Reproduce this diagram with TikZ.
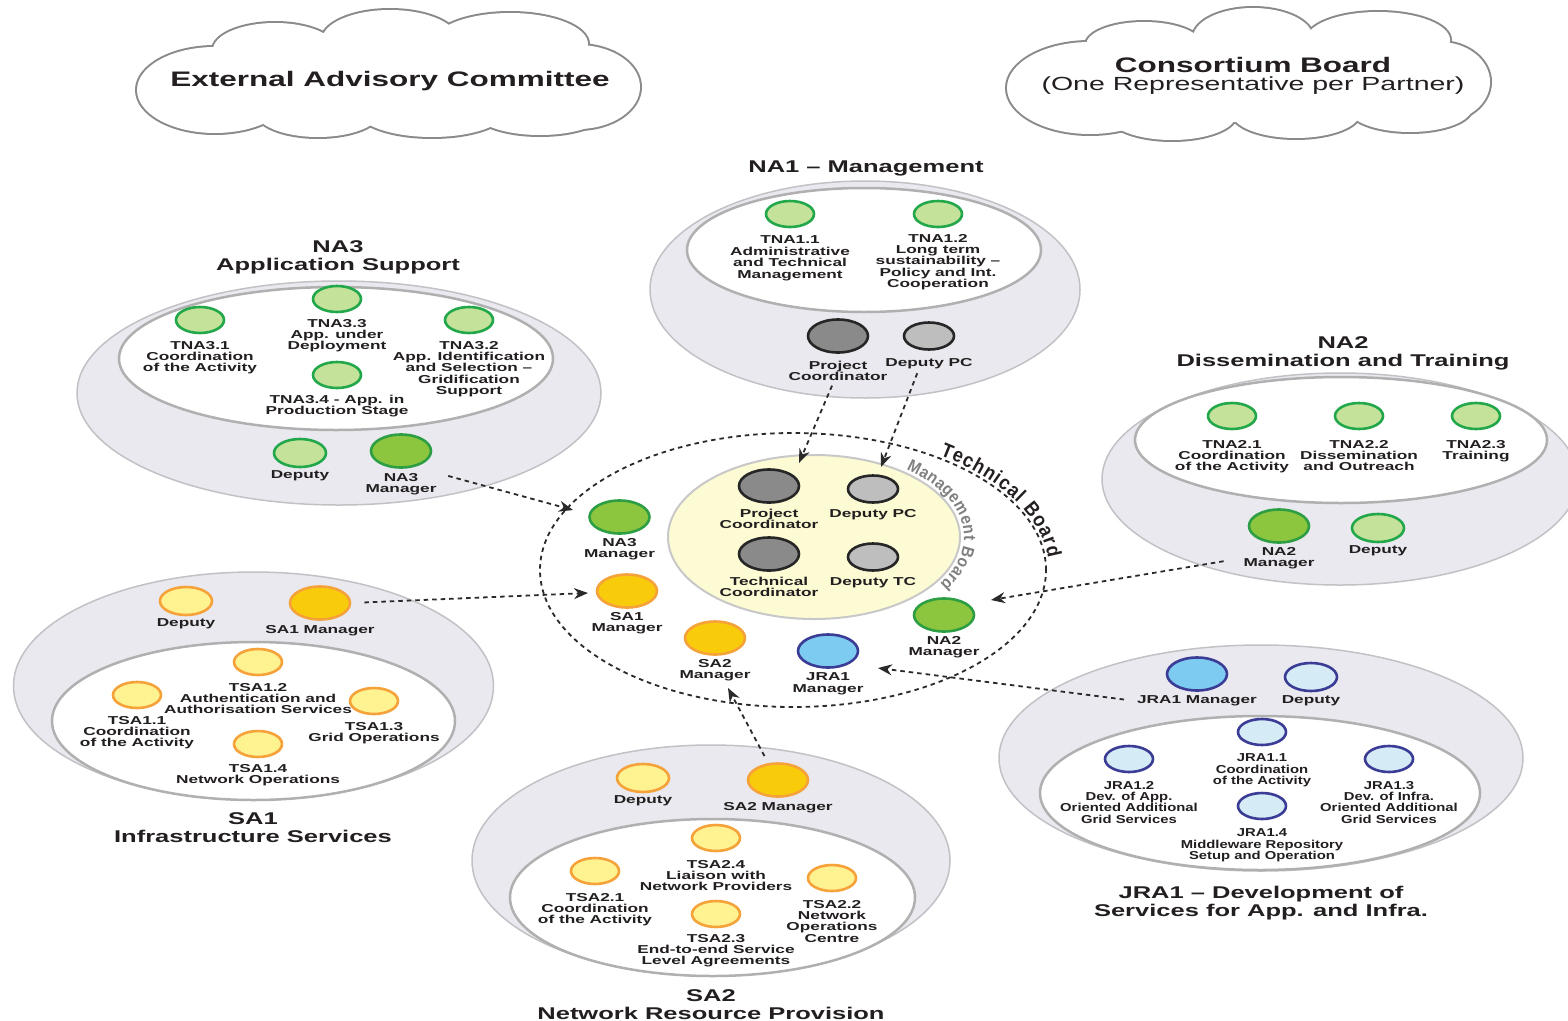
\documentclass[tikz,border=0pt]{standalone}
\usepackage{fontspec}
\setmainfont[FakeStretch=1.5]{Liberation Sans}
\newfontfamily\narrowfont[FakeStretch=0.9]{Liberation Sans}
\newfontfamily\jrafont[FakeStretch=1.29]{Liberation Sans}
\usetikzlibrary{shapes.geometric,arrows.meta,decorations.text,calc}
\definecolor{lgfill}{HTML}{C4E29A}
\definecolor{gborder}{HTML}{22A84A}
\definecolor{dgfill}{HTML}{8CC63E}
\definecolor{dgborder}{HTML}{2E9E45}
\definecolor{lyfill}{HTML}{FFF291}
\definecolor{yborder}{HTML}{F5A23A}
\definecolor{dyfill}{HTML}{F8CC0A}
\definecolor{lbfill}{HTML}{D5EBF5}
\definecolor{bborder}{HTML}{3B3C95}
\definecolor{dbfill}{HTML}{7DCBF0}
\definecolor{dgrey}{HTML}{8A8A8A}
\definecolor{lgrey}{HTML}{BEBEBE}
\definecolor{outerfill}{HTML}{E9E9EF}
\definecolor{outerline}{HTML}{C2C2C6}
\definecolor{innerline}{HTML}{B0B0B0}
\definecolor{mbfill}{HTML}{FDFBD4}
\definecolor{mbline}{HTML}{C8C8C8}
\definecolor{mbtxt}{HTML}{808080}
\definecolor{txt}{HTML}{231F20}
\definecolor{conncol}{HTML}{2A2A2A}
\definecolor{cloudline}{HTML}{8A8A8A}
\newcommand\mbfmt{\narrowfont\bfseries\fontsize{17}{17}\selectfont\color{mbtxt}}
\newcommand\tbfmt{\narrowfont\bfseries\fontsize{20}{20}\selectfont\color{txt}}
\newcommand\bubnode[6]{%
  \node[#2] (#1) at (#3,-#4) {};
  \node[lbl] (#1L) at (#3,-#6+4.2) {#5};}
\newcommand\bubnodej[6]{%
  \node[#2] (#1) at (#3,-#4) {};
  \node[lblj] (#1L) at (#3,-#6+4.2) {#5};}
\begin{document}
\begin{tikzpicture}[x=1pt,y=1pt,
  bub/.style={ellipse, inner sep=0pt, line width=2.6pt},
  task/.style={bub, minimum width=48pt, minimum height=26pt},
  dep/.style={bub, minimum width=52pt, minimum height=28pt},
  mgr/.style={bub, minimum width=60pt, minimum height=33pt},
  gT/.style={task, draw=gborder, fill=lgfill},
  gD/.style={dep, draw=gborder, fill=lgfill},
  gM/.style={mgr, draw=dgborder, fill=dgfill},
  yT/.style={task, draw=yborder, fill=lyfill},
  yD/.style={dep, draw=yborder, fill=lyfill},
  yM/.style={mgr, draw=yborder, fill=dyfill},
  bT/.style={task, draw=bborder, fill=lbfill},
  bD/.style={dep, draw=bborder, fill=lbfill},
  bM/.style={mgr, draw=bborder, fill=dbfill},
  kM/.style={mgr, draw=black!85, fill=dgrey},
  kD/.style={bub, minimum width=50pt, minimum height=27pt, draw=black!85, fill=lgrey},
  lbl/.style={font=\fontsize{11.5}{11.4}\selectfont\bfseries, text=txt, align=center, inner sep=0pt, anchor=north},
  lblj/.style={lbl, font=\jrafont\fontsize{11.5}{11.4}\selectfont\bfseries},
  ttl/.style={font=\fontsize{17}{18}\selectfont\bfseries, text=txt, align=center, inner sep=0pt, anchor=north},
  outerS/.style={fill=outerfill, draw=outerline, line width=1.5pt},
  innerS/.style={fill=white, draw=innerline, line width=2.5pt},
  cloudtxt/.style={font=\fontsize{21}{21}\selectfont\bfseries, text=txt, inner sep=0pt, anchor=base},
  cloudsub/.style={font=\fontsize{19}{19}\selectfont, text=txt, inner sep=0pt, anchor=base},
  conn/.style={draw=conncol, line width=1.8pt, dash pattern=on 4.5pt off 4pt, -{Stealth[length=14pt,width=11pt]}},
  tbS/.style={draw=conncol, line width=1.8pt, dash pattern=on 4.5pt off 4pt}
]
\fill[white] (0,0) rectangle (1568,-1020);
\useasboundingbox (0,0) rectangle (1568,-1020);

% clouds: union of puffs (outline drawn double width, then filled white)
\foreach \cx/\cy/\rx/\ry in {
  215/90/78/43, 275/50/62/27, 390/40/68/30, 510/44/78/31, 578/87/62/42,
  318/112/62/25, 432/110/75/27, 540/112/65/23, 390/85/190/40,
  1090/88/83/46, 1144/45/58/23, 1253/38/60/30, 1378/40/72/28, 1440/82/50/40,
  1172/115/64/25, 1296/113/64/25, 1410/108/62/24, 1250/80/190/42}
  \draw[draw=cloudline, line width=4pt] (\cx,-\cy) ellipse[x radius=\rx, y radius=\ry];
\foreach \cx/\cy/\rx/\ry in {
  215/90/78/43, 275/50/62/27, 390/40/68/30, 510/44/78/31, 578/87/62/42,
  318/112/62/25, 432/110/75/27, 540/112/65/23, 390/85/190/40,
  1090/88/83/46, 1144/45/58/23, 1253/38/60/30, 1378/40/72/28, 1440/82/50/40,
  1172/115/64/25, 1296/113/64/25, 1410/108/62/24, 1250/80/190/42}
  \fill[white] (\cx,-\cy) ellipse[x radius=\rx, y radius=\ry];
\node[cloudtxt] (eac) at (390,-86) {External Advisory Committee};
\node[cloudtxt] (cb) at (1253,-72) {Consortium Board};
\node[cloudsub] (cbsub) at (1253,-90) {(One Representative per Partner)};

% ---- NA1
\draw[outerS] (865,-289.5) ellipse[x radius=215, y radius=108.5];
\draw[innerS] (864,-250) ellipse[x radius=177, y radius=62];
\node[ttl] (na1T) at (866,-161) {NA1 – Management};
\bubnode{tna11}{gT}{790}{214}{TNA1.1\\Administrative\\and Technical\\Management}{240}
\bubnode{tna12}{gT}{938}{214}{TNA1.2\\Long term\\sustainability –\\Policy and Int.\\Cooperation}{238}
\bubnode{napc}{kM}{838}{336}{Project\\Coordinator}{365}
\bubnode{nadpc}{kD}{929}{336}{Deputy PC}{362}

% ---- NA3
\draw[outerS] (339,-393) ellipse[x radius=262, y radius=112];
\draw[innerS] (336,-358.5) ellipse[x radius=217, y radius=71.5];
\node[ttl] (na3T) at (338,-240) {NA3\\Application Support};
\bubnode{tna31}{gT}{200}{320}{TNA3.1\\Coordination\\of the Activity}{345}
\bubnode{tna33}{gT}{337}{299}{TNA3.3\\App. under\\Deployment}{323}
\bubnode{tna32}{gT}{469}{320}{TNA3.2\\App. Identification\\and Selection –\\Gridification\\Support}{345}
\bubnode{tna34}{gT}{337}{375}{TNA3.4 - App. in\\Production Stage}{399}
\bubnode{na3d}{gD}{300}{453}{Deputy}{475}
\bubnode{na3m}{gM}{401}{451}{NA3\\Manager}{477}

% ---- NA2
\draw[outerS] (1340,-479) ellipse[x radius=238, y radius=106];
\draw[innerS] (1341,-440) ellipse[x radius=206, y radius=63];
\node[ttl] (na2T) at (1343,-336) {NA2\\Dissemination and Training};
\bubnode{tna21}{gT}{1232}{416}{TNA2.1\\Coordination\\of the Activity}{444}
\bubnode{tna22}{gT}{1359}{416}{TNA2.2\\Dissemination\\and Outreach}{444}
\bubnode{tna23}{gT}{1476}{416}{TNA2.3\\Training}{444}
\bubnode{na2m}{gM}{1279}{526}{NA2\\Manager}{551}
\bubnode{na2d}{gD}{1378}{528}{Deputy}{550}

% ---- SA1
\draw[outerS] (253.5,-686) ellipse[x radius=240, y radius=114];
\draw[innerS] (253.5,-721) ellipse[x radius=201.5, y radius=79];
\node[ttl] (sa1T) at (253,-812) {SA1\\Infrastructure Services};
\bubnode{sa1d}{yD}{186}{601}{Deputy}{623}
\bubnode{sa1m}{yM}{320}{603}{SA1 Manager}{629}
\bubnode{tsa12}{yT}{258}{662}{TSA1.2\\Authentication and\\Authorisation Services}{687}
\bubnode{tsa11}{yT}{137}{695}{TSA1.1\\Coordination\\of the Activity}{720}
\bubnode{tsa13}{yT}{374}{701}{TSA1.3\\Grid Operations}{726}
\bubnode{tsa14}{yT}{258}{744}{TSA1.4\\Network Operations}{768}

% ---- SA2
\draw[outerS] (711,-860.5) ellipse[x radius=239, y radius=115.5];
\draw[innerS] (712.5,-897.5) ellipse[x radius=202.5, y radius=78.5];
\node[ttl] (sa2T) at (711,-989) {SA2\\Network Resource Provision};
\bubnode{sa2d}{yD}{643}{778}{Deputy}{800}
\bubnode{sa2m}{yM}{778}{780}{SA2 Manager}{806}
\bubnode{tsa24}{yT}{716}{838}{TSA2.4\\Liaison with\\Network Providers}{864}
\bubnode{tsa21}{yT}{595}{871}{TSA2.1\\Coordination\\of the Activity}{897}
\bubnode{tsa22}{yT}{832}{878}{TSA2.2\\Network\\Operations\\Centre}{904}
\bubnode{tsa23}{yT}{716}{914}{TSA2.3\\End-to-end Service\\Level Agreements}{938}

% ---- JRA1
\draw[outerS] (1261,-758) ellipse[x radius=262, y radius=113];
\draw[innerS] (1260,-793) ellipse[x radius=220, y radius=77];
\node[ttl] (jraT) at (1261,-886) {JRA1 – Development of\\Services for App. and Infra.};
\bubnode{jram}{bM}{1197}{674}{JRA1 Manager}{700}
\bubnode{jrad}{bD}{1311}{677}{Deputy}{700}
\bubnodej{jra11}{bT}{1262}{732}{JRA1.1\\Coordination\\of the Activity}{758}
\bubnodej{jra12}{bT}{1129}{759}{JRA1.2\\Dev. of App.\\Oriented Additional\\Grid Services}{785}
\bubnodej{jra13}{bT}{1389}{759}{JRA1.3\\Dev. of Infra.\\Oriented Additional\\Grid Services}{785}
\bubnodej{jra14}{bT}{1262}{806}{JRA1.4\\Middleware Repository\\Setup and Operation}{833}

% ---- centre: Technical Board and Management Board
\draw[tbS] (793,-570) ellipse[x radius=253, y radius=137];
\draw[fill=mbfill, draw=mbline, line width=2pt] (814,-537) ellipse[x radius=146, y radius=82];
\path[decorate, decoration={text along path, text={|\mbfmt|Management Board}, text align=fit to path}]
  ($(814,-537)+(52:150 and 86)$) arc[start angle=52, end angle=-33, x radius=150, y radius=86];
\path[decorate, decoration={text along path, text={|\tbfmt|Technical Board}, text align=fit to path}]
  ($(793,-570)+(55:256 and 140)$) arc[start angle=55, end angle=5, x radius=256, y radius=140];

\bubnode{cpc}{kM}{769}{486}{Project\\Coordinator}{513}
\bubnode{cdpc}{kD}{873}{489}{Deputy PC}{513}
\bubnode{ctc}{kM}{769}{554}{Technical\\Coordinator}{581}
\bubnode{cdtc}{kD}{873}{557}{Deputy TC}{581}
\bubnode{cna3m}{gM}{619.5}{517}{NA3\\Manager}{542}
\bubnode{csa1m}{yM}{627}{591}{SA1\\Manager}{616}
\bubnode{csa2m}{yM}{715}{638}{SA2\\Manager}{663}
\bubnode{cjram}{bM}{828}{651}{JRA1\\Manager}{677}
\bubnode{cna2m}{gM}{944}{615}{NA2\\Manager}{640}

% arrow tips
\coordinate (tPC) at (799,-463);
\coordinate (tDPC) at (881,-467);
\coordinate (tNA3) at (573,-510);
\coordinate (tSA1) at (588,-593);
\coordinate (tNA2) at (991,-600);
\coordinate (tJRA) at (878,-668);
\coordinate (tSA2) at (728,-688);

% connectors
\draw[conn, shorten <=5pt] ([xshift=-4pt]napcL.south) -- (tPC);
\draw[conn, shorten <=5pt] ([xshift=-10pt]nadpcL.south) -- (tDPC);
\draw[conn, shorten <=12pt] (na3mL.north east) -- (tNA3);
\draw[conn, shorten <=13pt] (sa1m.east) -- (tSA1);
\draw[conn, shorten <=20pt] (na2mL.west) -- (tNA2);
\draw[conn, shorten <=13pt] (jramL.west) -- (tJRA);
\draw[conn, shorten <=8pt] (sa2m.120) -- (tSA2);
\end{tikzpicture}
\end{document}
